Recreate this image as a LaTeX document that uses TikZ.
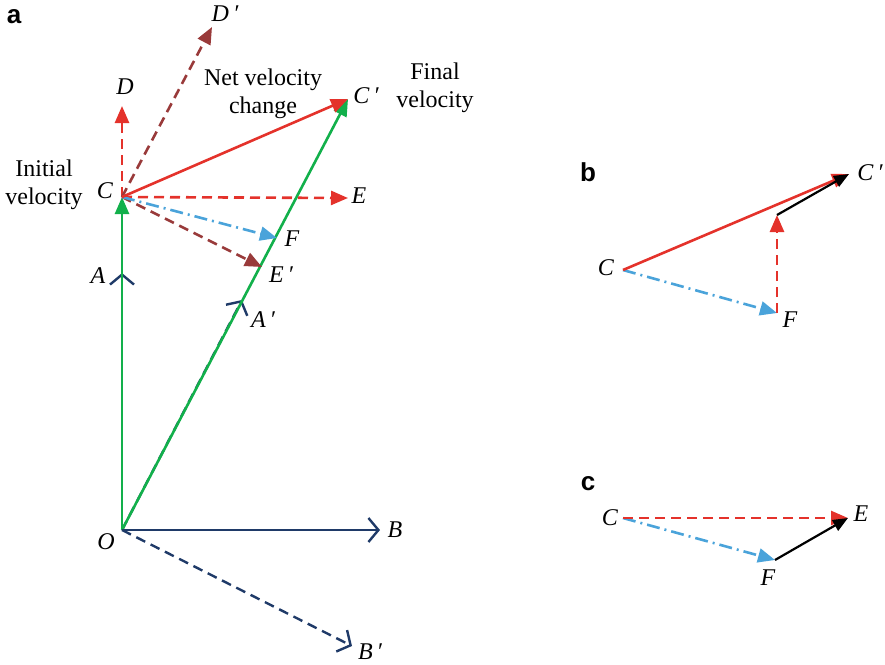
\documentclass[tikz,border=0pt]{standalone}
\usepackage{fontspec}
\setmainfont{Liberation Serif}
\newfontfamily\panelfont{Liberation Sans}
\usepackage{xcolor}
\usepackage{tikz}
\usetikzlibrary{arrows.meta}
\definecolor{vred}{HTML}{E4322B}
\definecolor{vbrown}{HTML}{993A3A}
\definecolor{vgreen}{HTML}{12B04B}
\definecolor{vnavy}{HTML}{1F3A68}
\definecolor{vblue}{HTML}{4AA3DA}

\begin{document}
\begin{tikzpicture}[
  x=0.5pt, y=-0.5pt,
  font=\fontsize{12}{14}\selectfont,
  vec/.style={line width=1.3pt, -{Triangle[length=8.5pt,width=7pt]}},
  dsh/.style={dash pattern=on 5pt off 3pt},
  dshdot/.style={dash pattern=on 6.5pt off 2.5pt on 1pt off 2.5pt},
  barb/.style={line width=1.2pt, draw=vnavy, -{Straight Barb[length=5pt,width=12pt,line width=1.2pt]}},
  blk/.style={line width=1.1pt, draw=black, -{Triangle[length=7.5pt,width=6pt]}},
  pt/.style={font=\fontsize{12}{14}\selectfont\itshape, inner sep=1pt},
  note/.style={align=center, inner sep=1pt},
  panel/.style={font=\panelfont\bfseries\fontsize{13}{14}\selectfont, inner sep=1pt},
  ]
  \useasboundingbox (0,0) rectangle (885,665);

  % panel a
  \coordinate (O) at (122,530);
  \coordinate (A) at (122,273);
  \coordinate (Ap) at (242,300);
  \coordinate (B) at (380,530);
  \coordinate (Bp) at (352,646);
  \coordinate (C) at (122,197);
  \coordinate (Cp) at (348,99);
  \coordinate (D) at (122,106);
  \coordinate (Dp) at (212,27);
  \coordinate (E) at (348,198);
  \coordinate (Ep) at (262,267);
  \coordinate (F) at (277,238);

  \draw[barb, dsh] (O) -- (Ap);
  \draw[barb] (O) -- (A);
  \draw[vec, vgreen] (O) -- (C);
  \draw[vec, vgreen] (O) -- (Cp);
  \draw[barb] (O) -- (B);
  \draw[barb, dsh] (O) -- (Bp);
  \draw[vec, vred, dsh] (C) -- (D);
  \draw[vec, vbrown, dsh] (C) -- (Dp);
  \draw[vec, vred, dsh] (C) -- (E);
  \draw[vec, vbrown, dsh] (C) -- (Ep);
  \draw[vec, vblue, dshdot] (C) -- (F);
  \draw[vec, vred] (C) -- (Cp);

  \node[panel] (pa) at (14,17) {a};
  \node[pt] (lO) at (106,542) {O};
  \node[pt] (lA) at (98,276) {A};
  \node[pt] (lAp) at (263,320) {A\,′};
  \node[pt] (lB) at (395,530) {B};
  \node[pt] (lBp) at (370,652) {B\,′};
  \node[pt] (lC) at (105,191) {C};
  \node[pt] (lCp) at (366,96) {C\,′};
  \node[pt] (lD) at (125,87) {D};
  \node[pt] (lDp) at (225,14) {D\,′};
  \node[pt] (lE) at (359,196) {E};
  \node[pt] (lEp) at (281,275) {E\,′};
  \node[pt] (lF) at (292,239) {F};
  \node[note] (init) at (44,185) {Initial\\velocity};
  \node[note] (net) at (263,94) {Net velocity\\change};
  \node[note] (fin) at (435,88) {Final\\velocity};

  % panel b
  \coordinate (bC) at (623,270);
  \coordinate (bCp) at (849,174);
  \coordinate (bF) at (777,313);
  \coordinate (bG) at (777,215);
  \draw[vec, vblue, dshdot] (bC) -- (bF);
  \draw[vec, vred, dsh] (bF) -- (bG);
  \draw[vec, vred] (bC) -- (bCp);
  \draw[blk] (bG) -- (bCp);
  \node[panel] (pb) at (588,172) {b};
  \node[pt] (lbC) at (606,268) {C};
  \node[pt] (lbCp) at (870,173) {C\,′};
  \node[pt] (lbF) at (790,320) {F};

  % panel c
  \coordinate (cC) at (623,518);
  \coordinate (cE) at (848,518);
  \coordinate (cF) at (775,560);
  \draw[vec, vblue, dshdot] (cC) -- (cF);
  \draw[vec, vred, dsh] (cC) -- (cE);
  \draw[blk] (cF) -- (cE);
  \node[panel] (pc) at (588,484) {c};
  \node[pt] (lcC) at (610,518) {C};
  \node[pt] (lcE) at (861,514) {E};
  \node[pt] (lcF) at (768,578) {F};
\end{tikzpicture}
\end{document}
